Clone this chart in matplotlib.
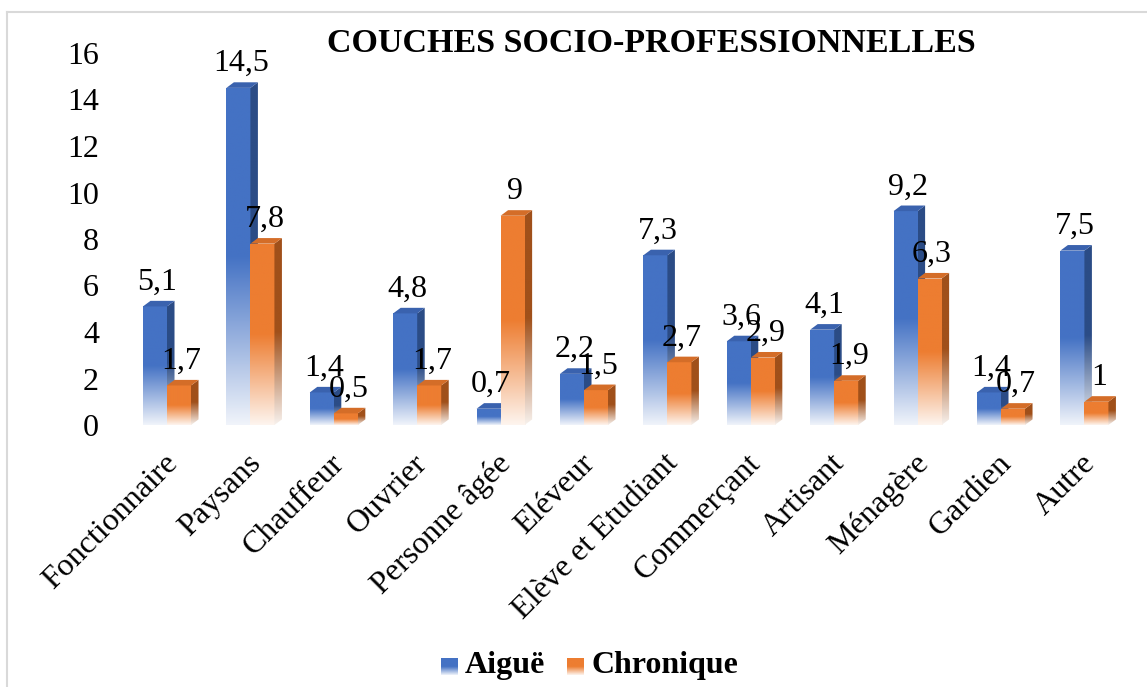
import numpy as np
import matplotlib
matplotlib.use('Agg')
import matplotlib.pyplot as plt
from matplotlib.patches import Polygon, Rectangle
from matplotlib.lines import Line2D
from matplotlib.colors import to_rgb

plt.rcParams['font.family'] = ['Liberation Serif', 'DejaVu Serif']

categories = ['Fonctionnaire', 'Paysans', 'Chauffeur', 'Ouvrier', 'Personne âgée',
              'Eléveur', 'Elève et Etudiant', 'Commerçant', 'Artisant', 'Ménagère',
              'Gardien', 'Autre']
aigue = [5.1, 14.5, 1.4, 4.8, 0.7, 2.2, 7.3, 3.6, 4.1, 9.2, 1.4, 7.5]
chronique = [1.7, 7.8, 0.5, 1.7, 9, 1.5, 2.7, 2.9, 1.9, 6.3, 0.7, 1]
yticks = [0, 2, 4, 6, 8, 10, 12, 14, 16]
series_names = ['Aiguë', 'Chronique']

# colours: front, side, top
blue = ('#4472C4', '#2B4C86', '#3A62AE')
orange = ('#ED7D31', '#A0501A', '#D46D28')

W = 0.288      # bar width
DX = 0.09      # 3d depth in x (data units)
DY = 0.24      # 3d depth in y (data units)


def grad(color, n=200):
    base = np.array(to_rgb(color))
    f = np.linspace(0, 1, n)
    w = np.clip(0.08 + 0.92 * f / 0.5, 0, 1)
    arr = w[:, None] * base[None, :] + (1 - w[:, None]) * np.ones(3)[None, :]
    return arr[:, None, :]


def fmt(v):
    return ('%g' % v).replace('.', ',')


fig = plt.figure(figsize=(11.47, 6.87), dpi=100)
ax = fig.add_axes([125.3 / 1147, (687 - 425) / 687, 1000.8 / 1147, (425 - 53) / 687])

z = 2


def bar3d(x0, h, cols):
    global z
    front, side, top = cols
    x1 = x0 + W
    rect = Rectangle((x0, 0), W, h, transform=ax.transData)
    im = ax.imshow(grad(front), origin='lower', extent=(x0, x1, 0, h), aspect='auto',
                   zorder=z, interpolation='bilinear')
    im.set_clip_path(rect)
    sp = Polygon([(x1, 0), (x1 + DX, DY), (x1 + DX, h + DY), (x1, h)], closed=True,
                 transform=ax.transData)
    im2 = ax.imshow(grad(side), origin='lower', extent=(x1, x1 + DX, 0, h + DY),
                    aspect='auto', zorder=z, interpolation='bilinear')
    im2.set_clip_path(sp)
    ax.add_patch(Polygon([(x0, h), (x0 + DX, h + DY), (x1 + DX, h + DY), (x1, h)],
                         closed=True, facecolor=top, edgecolor='none', zorder=z + 0.5))
    z += 1


x = np.arange(len(categories))
for i in x:
    bar3d(i - W, aigue[i], blue)
    bar3d(i, chronique[i], orange)

for i in x:
    for xc, v in ((i - W / 2 + DX / 3, aigue[i]), (i + W / 2 + DX / 3, chronique[i])):
        ax.annotate(fmt(v), (xc, v), xytext=(0, 12), textcoords='offset points',
                    ha='center', va='baseline', fontsize=23, zorder=200)

ax.set_xlim(-0.5, 11.5)
ax.set_ylim(0, 16)
ax.set_yticks(yticks)
ax.set_yticklabels([str(t) for t in yticks], fontsize=23)
ax.set_xticks(x - 0.05)
ax.set_xticklabels(categories, rotation=45, ha='right', va='top',
                   rotation_mode='anchor', fontsize=23)
ax.tick_params(length=0)
ax.tick_params(axis='y', pad=19)
ax.tick_params(axis='x', pad=17)
for s in ax.spines.values():
    s.set_visible(False)

fig.text(651 / 1147, 1 - 43 / 687, 'COUCHES SOCIO-PROFESSIONNELLES', ha='center',
         va='center', fontsize=24.5, fontweight='bold')

# legend
for (px, col, name, tx) in ((441, blue[0], series_names[0], 465),
                            (567, orange[0], series_names[1], 591)):
    lax = fig.add_axes([px / 1147, 1 - 675 / 687, 17 / 1147, 17 / 687])
    lax.imshow(grad(col), origin='lower', aspect='auto', extent=(0, 1, 0, 1))
    lax.axis('off')
    fig.text(tx / 1147, 1 - 666 / 687, name, ha='left', va='center', fontsize=23,
             fontweight='bold')

# chart border
fig.add_artist(Line2D([7 / 1147, 1], [1 - 12 / 687, 1 - 12 / 687], color='#D9D9D9', lw=1.5))
fig.add_artist(Line2D([7 / 1147, 7 / 1147], [0, 1 - 12 / 687], color='#D9D9D9', lw=1.5))

fig.savefig('out.png', dpi=100)
